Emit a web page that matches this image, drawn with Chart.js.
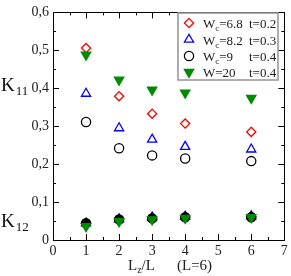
<!DOCTYPE html>
<html><head><meta charset="utf-8">
<script src="https://cdn.jsdelivr.net/npm/chart.js@4/dist/chart.umd.min.js"></script>
<style>html,body{margin:0;padding:0;background:#fff}</style>
</head><body>
<canvas id="c" width="291" height="276"></canvas>
<script>
// ---- data ----
const xValues = [1, 2, 3, 4, 6];
const k11_wc68 = [0.506, 0.379, 0.333, 0.307, 0.285];
const k11_wc82 = [0.386, 0.295, 0.265, 0.246, 0.239];
const k11_wc9  = [0.311, 0.242, 0.223, 0.215, 0.208];
const k11_w20  = [0.488, 0.422, 0.396, 0.388, 0.374];
const k12_wc68 = [0.045, 0.055, 0.058, 0.061, 0.062];
const k12_wc82 = [0.044, 0.055, 0.060, 0.062, 0.063];
const k12_wc9  = [0.044, 0.054, 0.057, 0.060, 0.060];
const k12_w20  = [0.036, 0.049, 0.054, 0.058, 0.060];
const yTickLabels = ['0', '0,1', '0,2', '0,3', '0,4', '0,5', '0,6'];
const xTickLabels = ['0', '1', '2', '3', '4', '5', '6', '7'];
const legendW = ['6.8', '8.2', '9', '20'];
const legendT = ['t=0.2', 't=0.3', 't=0.4', 't=0.4'];

const pts = arr => arr.map((v, i) => ({x: xValues[i], y: v}));
const SERIF = '"Liberation Serif", "DejaVu Serif", serif';

const styles = [
  {color: '#ff0000', pointStyle: 'rectRot', radius: 4.6, rotation: 0, order: 3},
  {color: '#0000ff', pointStyle: 'triangle', radius: 5.3, rotation: 0, order: 2},
  {color: '#000000', pointStyle: 'circle', radius: 4.6, rotation: 0, order: 1},
  {color: '#008a00', pointStyle: 'triangle', radius: 5.4, rotation: 180, order: 0}
];
const k11 = [k11_wc68, k11_wc82, k11_wc9, k11_w20];
const k12 = [k12_wc68, k12_wc82, k12_wc9, k12_w20];

const datasets = [];
styles.forEach((s, i) => {
  const filledGreen = i === 3;
  datasets.push({
    label: 'K11 ' + legendW[i], data: pts(k11[i]), pointStyle: s.pointStyle,
    pointRadius: s.radius, pointRotation: s.rotation, borderColor: s.color,
    backgroundColor: filledGreen ? s.color : 'rgba(0,0,0,0)', pointBorderWidth: 1.3,
    showLine: false, order: s.order
  });
  datasets.push({
    label: 'K12 ' + legendW[i], data: pts(k12[i]), pointStyle: s.pointStyle,
    pointRadius: s.radius, pointRotation: s.rotation, borderColor: s.color,
    backgroundColor: s.color, pointBorderWidth: 1.3,
    showLine: false, order: s.order
  });
});

const decor = {
  id: 'decor',
  afterDraw(chart) {
    const ctx = chart.ctx, a = chart.chartArea;
    const xs = chart.scales.x, ys = chart.scales.y;
    ctx.save();
    ctx.strokeStyle = '#000'; ctx.lineWidth = 1;
    ctx.strokeRect(Math.round(a.left) + 0.5, Math.round(a.top) + 0.5,
                   Math.round(a.right - a.left), Math.round(a.bottom - a.top));
    ctx.beginPath();
    for (let k = 0; k <= 12; k++) {
      const py = Math.round(ys.getPixelForValue(k * 0.05)) + 0.5;
      const len = k % 2 === 0 ? 6 : 3;
      ctx.moveTo(a.left, py); ctx.lineTo(a.left + len, py);
      ctx.moveTo(a.right, py); ctx.lineTo(a.right - len, py);
    }
    for (let k = 0; k <= 14; k++) {
      const px = Math.round(xs.getPixelForValue(k * 0.5)) + 0.5;
      const len = k % 2 === 0 ? 6 : 3;
      ctx.moveTo(px, a.bottom); ctx.lineTo(px, a.bottom - len);
      ctx.moveTo(px, a.top); ctx.lineTo(px, a.top + len);
    }
    ctx.stroke();

    // K labels
    ctx.fillStyle = '#111';
    ctx.textBaseline = 'alphabetic'; ctx.textAlign = 'left';
    const kLabel = (sub, yv) => {
      const py = ys.getPixelForValue(yv);
      ctx.font = '19px ' + SERIF;
      ctx.fillText('K', 1, py + 7);
      const w = ctx.measureText('K').width;
      ctx.font = '13px ' + SERIF;
      ctx.fillText(sub, 1 + w + 1, py + 11);
    };
    kLabel('11', 0.41);
    kLabel('12', 0.052);

    // x title
    ctx.fillStyle = '#222';
    ctx.font = '15px ' + SERIF;
    let x0 = 128, by = 270;
    ctx.fillText('L', x0, by);
    x0 += ctx.measureText('L').width;
    ctx.font = '10px ' + SERIF;
    ctx.fillText('z', x0, by + 3);
    x0 += ctx.measureText('z').width;
    ctx.font = '15px ' + SERIF;
    ctx.fillText('/L', x0, by);
    ctx.fillText('(L=6)', 177, by);

    // legend
    const lx = 178, ly = 13, lw = 100, lh = 67;
    ctx.fillStyle = '#fff';
    ctx.fillRect(lx, ly, lw, lh);
    ctx.strokeStyle = '#9a9a9a'; ctx.lineWidth = 1.6;
    ctx.strokeRect(lx, ly, lw, lh);
    const rows = [23, 39.5, 56, 72];
    styles.forEach((s, i) => {
      const ry = rows[i];
      ctx.strokeStyle = s.color; ctx.fillStyle = i === 3 ? s.color : 'rgba(0,0,0,0)';
      ctx.lineWidth = 1.3;
      Chart.helpers.drawPoint(ctx, {pointStyle: s.pointStyle, radius: s.radius,
        rotation: s.rotation, borderWidth: 1.3}, 189, ry);
      ctx.fillStyle = '#222';
      ctx.font = '13px ' + SERIF;
      let tx = 203;
      ctx.fillText('W', tx, ry + 5);
      tx += ctx.measureText('W').width;
      if (i < 3) {
        ctx.font = '9px ' + SERIF;
        ctx.fillText('c', tx, ry + 8);
        tx += ctx.measureText('c').width;
        ctx.font = '13px ' + SERIF;
      }
      ctx.fillText('=' + legendW[i], tx, ry + 5);
      ctx.fillText(legendT[i], 249, ry + 5);
    });
    ctx.restore();
  }
};

new Chart(document.getElementById('c'), {
  type: 'scatter',
  data: {datasets},
  options: {
    responsive: false, animation: false, devicePixelRatio: 1,
    layout: {padding: {left: 0, right: 5, top: 7, bottom: 0}},
    plugins: {legend: {display: false}, tooltip: {enabled: false}},
    scales: {
      x: {
        type: 'linear', min: 0, max: 7,
        grid: {display: false, drawTicks: false},
        border: {display: false},
        ticks: {stepSize: 1, padding: 3, color: '#222', font: {family: SERIF, size: 14},
          callback: (v, i) => xTickLabels[i], maxRotation: 0, autoSkip: false},
        afterFit: s => { s.height = 36; }
      },
      y: {
        type: 'linear', min: 0, max: 0.6,
        grid: {display: false, drawTicks: false},
        border: {display: false},
        ticks: {stepSize: 0.1, padding: 4, color: '#222', font: {family: SERIF, size: 14},
          callback: (v, i) => yTickLabels[i], autoSkip: false},
        afterFit: s => { s.width = 53; }
      }
    },
    elements: {point: {hitRadius: 0}}
  },
  plugins: [decor]
});
</script>
</body></html>
